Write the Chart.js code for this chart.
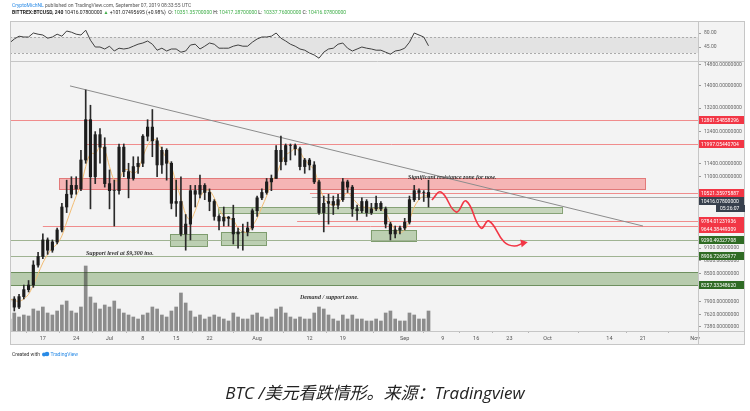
<!DOCTYPE html>
<html>
<head>
<meta charset="utf-8">
<script src="https://cdn.jsdelivr.net/npm/chart.js@4.4.1/dist/chart.umd.min.js"></script>
<style>
  html, body { margin: 0; padding: 0; background: #fff; }
  .wrap { position: relative; width: 750px; height: 411px; overflow: hidden; }
  canvas { display: block; }
  .caption { position: absolute; left: 0; width: 750px; top: 379px; text-align: center;
    font: italic 17px "Open Sans", "Noto Sans CJK SC", sans-serif; color: #222; }
</style>
</head>
<body>
<div class="wrap">
  <canvas id="c" width="750" height="411"></canvas>
  <div class="caption">BTC /美元看跌情形。来源：Tradingview</div>
</div>
<script>
// BTC/USD (Bittrex), summarised per day. x = days since 17 Jun 2019
const firstDay = -7;

const priceOpen = [
  7900, 7950, 7780, 8000, 8150, 8250, 8700,
  8900, 9300, 9050, 9250, 9550, 10150, 10500,
  10750, 10650, 11500, 12800, 11000, 12300, 11900,
  10800, 10600, 10600, 11900, 11150, 10950, 11300,
  11400, 12250, 12550, 12100, 11350, 11800, 11400,
  10250, 10300, 9450, 9700, 10600, 10500, 10750,
  10550, 10300, 9900, 9780, 9880, 9850, 9450,
  9500, 9500, 9600, 10050, 10400, 10550, 10850,
  10950, 11800, 11450, 11950, 11950, 11850, 11300,
  11500, 11350, 10850, 10000, 10250, 10300, 10200,
  10350, 10850, 10700, 10100, 10050, 10300, 10000,
  10100, 10250, 10100, 9700, 9450, 9550, 9600,
  9750, 10350, 10600, 10550, 10550
];
const priceHigh = [
  8000, 8000, 8050, 8250, 8350, 8800, 9000,
  9450, 9350, 9300, 9600, 10250, 10900, 11000,
  11000, 11800, 13850, 13300, 12400, 12500, 12200,
  11200, 10900, 12000, 12000, 11400, 11600, 11600,
  12300, 12800, 13150, 12200, 11900, 11850, 11450,
  10900, 11000, 9950, 10750, 10750, 11050, 10800,
  10650, 10350, 9950, 10150, 9900, 10200, 9600,
  9700, 9750, 10100, 10450, 10650, 10950, 11050,
  11950, 12250, 12000, 12000, 12000, 11900, 11550,
  11550, 11450, 10900, 10450, 10500, 10450, 10500,
  10950, 10900, 10750, 10200, 10400, 10350, 10250,
  10450, 10300, 10150, 9750, 9650, 9650, 9850,
  10450, 10750, 10650, 10600, 10900
];
const priceLow = [
  7820, 7700, 7750, 7950, 8100, 8200, 8650,
  8850, 8950, 9000, 9200, 9500, 10000, 10400,
  10500, 10600, 11400, 10100, 10800, 11400, 10700,
  10100, 9650, 10500, 11000, 10400, 10900, 11100,
  11300, 12100, 11600, 11000, 11100, 10900, 10100,
  9900, 9400, 9050, 9300, 10150, 10400, 10350,
  10050, 9800, 9550, 9650, 9650, 9200, 9100,
  9050, 9400, 9550, 9900, 10350, 10500, 10600,
  10950, 11200, 11350, 11500, 11650, 11200, 11100,
  11200, 10800, 9950, 9500, 9700, 9950, 10100,
  10300, 10550, 9900, 9800, 10000, 9900, 9950,
  10050, 10050, 9600, 9300, 9350, 9450, 9550,
  9700, 10300, 10350, 10300, 10150
];
const priceClose = [
  7950, 7780, 8000, 8150, 8250, 8700, 8900,
  9300, 9050, 9250, 9550, 10150, 10500, 10750,
  10650, 11500, 12800, 11000, 12300, 11900, 10800,
  10600, 10600, 11900, 11150, 10950, 11300, 11400,
  12250, 12550, 12100, 11350, 11800, 11400, 10250,
  10300, 9450, 9700, 10600, 10500, 10750, 10550,
  10300, 9900, 9780, 9880, 9850, 9450, 9500,
  9500, 9600, 10050, 10400, 10550, 10850, 10950,
  11800, 11450, 11950, 11950, 11850, 11300, 11500,
  11350, 10850, 10000, 10250, 10300, 10200, 10350,
  10850, 10700, 10100, 10050, 10300, 10000, 10100,
  10250, 10100, 9700, 9450, 9550, 9600, 9750,
  10350, 10600, 10550, 10550, 10416.078
];
const maValues = [
  7950, 7920, 7900, 7950, 8050, 8250, 8500,
  8750, 8950, 9100, 9200, 9400, 9750, 10100,
  10450, 10750, 11300, 11700, 11700, 11900, 11800,
  11300, 10900, 10900, 11200, 11200, 11100, 11200,
  11600, 11950, 12150, 12100, 11800, 11550, 11300,
  10800, 10400, 9950, 9800, 10050, 10400, 10600,
  10600, 10400, 10100, 9900, 9850, 9800, 9600,
  9500, 9500, 9650, 9850, 10150, 10450, 10850,
  11050, 11400, 11650, 11750, 11850, 11750, 11500,
  11350, 11200, 10750, 10400, 10250, 10200, 10250,
  10400, 10550, 10400, 10250, 10150, 10150, 10100,
  10100, 10100, 10000, 9750, 9550, 9480, 9550,
  9800, 10150, 10350, 10450, 10450
];
const rsiValues = [
  55, 65, 72, 70, 70, 80, 77,
  75, 67, 70, 77, 72, 85, 82,
  77, 75, 87, 62, 45, 45, 40,
  47, 35, 42, 40, 42, 47, 52,
  55, 60, 52, 37, 42, 35, 40,
  40, 32, 35, 50, 52, 40, 47,
  55, 52, 42, 42, 42, 47, 50,
  47, 47, 57, 65, 70, 70, 72,
  80, 67, 60, 52, 47, 40, 37,
  30, 25, 17, 32, 40, 42, 52,
  55, 42, 35, 40, 45, 42, 40,
  37, 37, 32, 27, 35, 37, 42,
  57, 80, 75, 70, 48
];
const volumes = [
  360, 540, 420, 480, 450, 660, 600,
  720, 540, 480, 600, 780, 900, 600,
  540, 720, 1950, 1020, 840, 660, 780,
  720, 900, 660, 540, 480, 420, 360,
  480, 540, 720, 660, 480, 420, 600,
  720, 1140, 840, 600, 420, 480, 360,
  420, 480, 420, 360, 300, 540, 420,
  360, 360, 480, 540, 420, 360, 420,
  660, 720, 540, 420, 360, 420, 360,
  360, 540, 720, 660, 480, 360, 300,
  480, 360, 480, 360, 360, 300, 300,
  360, 300, 540, 600, 360, 300, 300,
  540, 480, 360, 360, 600
];

// author's drawings
const trendDays = [5.7, 126.05];
const trendPrices = [14000, 9650];
const forecastDays = [81.7, 83.6, 86.8, 88.9, 92.0, 93.7, 96.9, 99.0, 100.9];
const forecastPrices = [10341, 10563, 10016, 10313, 9599, 9780, 9248, 9151, 9224];

const levelLines = [
  [12801.54858296, -7, '#f08c8c'],
  [11997.05440704, 8.9, '#f08c8c'],
  [10521.35975887, 56.1, '#f08c8c'],
  [10416.078, 56.5, '#a9a9a9'],
  [9784.01231936, 53.4, '#f08c8c'],
  [9644.38449309, 0, '#f08c8c'],
  [9290.49327708, -7, '#9fb392'],
  [8906.72685977, -7, '#9fb392']
];
const zones = [
  [3.4, 126.5, 10640, 10960, '#f5b5b5', '#e27a7a'],
  [36.8, 109.0, 9990, 10150, '#c6d5bc', '#86a276'],
  [26.7, 34.5, 9151, 9447, '#bccfb2', '#7e9c6e'],
  [37.4, 46.9, 9176, 9497, '#bccfb2', '#7e9c6e'],
  [68.9, 78.4, 9273, 9549, '#bccfb2', '#7e9c6e'],
  [-7, 140, 8257.3334862, 8540, '#b7cbad', '#6e8f5f']
];
const notes = [
  ['Significant resistance zone for now.', 76.7, 10935],
  ['Support level at $9,300 ino.', 9.06, 8935],
  ['Demand / support zone.', 54.0, 7951]
];
const priceTags = [
  [12801.54858296, '#f23645'],
  [11997.05440704, '#f23645'],
  [10521.35975887, '#f23645'],
  [10416.078, '#37404d'],
  [9784.01231936, '#f23645'],
  [9644.38449309, '#f23645'],
  [9290.49327708, '#2f6b24'],
  [8906.72685977, '#2f6b24'],
  [8257.3334862, '#2f6b24']
];

const priceTicks = [14800, 14000, 13200, 12400, 11400, 11000, 9100, 8800, 8500, 7900, 7620, 7380];
const rsiTicks = [80, 45];
const rsiBand = [70, 30];
const timeTickDays = [0, 7, 14, 21, 28, 35, 45, 56, 63, 76, 84, 91, 98, 106, 119, 126, 137];
const timeTickLabels = ['17', '24', 'Jul', '8', '15', '22', 'Aug', '12', '19', 'Sep', '9', '16', '23', 'Oct', '14', '21', 'Nov'];

const days = priceClose.map((_, i) => firstDay + i);
const wicks = days.map((d, i) => ({ x: d, y: [priceLow[i], priceHigh[i]] }));
const bodies = days.map((d, i) => ({ x: d, y: [priceOpen[i], priceClose[i]] }));
const maPts = days.map((d, i) => ({ x: d, y: maValues[i] }));
const rsiPts = days.map((d, i) => ({ x: d, y: rsiValues[i] }));
const volPts = days.map((d, i) => ({ x: d, y: volumes[i] }));
const trendPts = trendDays.map((d, i) => ({ x: d, y: trendPrices[i] }));
const forecastPts = forecastDays.map((d, i) => ({ x: d, y: forecastPrices[i] }));

Chart.defaults.font.family = 'Roboto, "DejaVu Sans", sans-serif';

function runs(ctx, x, y, parts) {
  for (const [text, color, font] of parts) {
    ctx.font = font;
    ctx.fillStyle = color;
    ctx.fillText(text, x, y);
    x += ctx.measureText(text).width;
  }
}

const decor = {
  id: 'decor',
  beforeDraw(chart) {
    const { ctx, chartArea: a, scales: { rsi } } = chart;
    ctx.save();
    ctx.fillStyle = '#f3f3f3';
    ctx.fillRect(10, 21, 735, 324);
    const yTop = rsi.getPixelForValue(rsiBand[0]);
    const yBot = rsi.getPixelForValue(rsiBand[1]);
    ctx.fillStyle = '#e3e3e3';
    ctx.fillRect(a.left, yTop, a.width, yBot - yTop);
    ctx.strokeStyle = '#ababab';
    ctx.lineWidth = 1;
    ctx.setLineDash([2, 2]);
    [yTop, yBot].forEach(y => {
      ctx.beginPath();
      ctx.moveTo(a.left, Math.round(y) + 0.5);
      ctx.lineTo(a.right, Math.round(y) + 0.5);
      ctx.stroke();
    });
    ctx.restore();
  },
  beforeDatasetsDraw(chart) {
    const { ctx, chartArea: a, scales: { x, price } } = chart;
    ctx.save();
    ctx.beginPath();
    ctx.rect(a.left, price.top, a.width, price.height);
    ctx.clip();
    for (const [d0, d1, lo, hi, fill, edge] of zones) {
      const x0 = Math.max(a.left, x.getPixelForValue(d0));
      const x1 = Math.min(a.right, x.getPixelForValue(d1));
      const y0 = Math.round(price.getPixelForValue(hi)) + 0.5;
      const y1 = Math.round(price.getPixelForValue(lo)) + 0.5;
      ctx.fillStyle = fill;
      ctx.fillRect(x0, y0, x1 - x0, y1 - y0);
      ctx.strokeStyle = edge;
      ctx.lineWidth = 1;
      ctx.strokeRect(Math.round(x0) + 0.5, y0, Math.round(x1 - x0), y1 - y0);
    }
    for (const [p, d0, color] of levelLines) {
      const y = Math.round(price.getPixelForValue(p)) + 0.5;
      ctx.strokeStyle = color;
      ctx.beginPath();
      ctx.moveTo(Math.max(a.left, x.getPixelForValue(d0)), y);
      ctx.lineTo(a.right, y);
      ctx.stroke();
    }
    ctx.restore();
  },
  afterDatasetsDraw(chart) {
    const { ctx, scales: { x, price } } = chart;
    ctx.save();
    ctx.font = 'italic 600 6px "Liberation Serif", serif';
    ctx.fillStyle = '#333';
    ctx.textBaseline = 'alphabetic';
    for (const [t, d, p] of notes) ctx.fillText(t, x.getPixelForValue(d), price.getPixelForValue(p));
    ctx.restore();
  },
  afterDraw(chart) {
    const { ctx, chartArea: a, scales: { price } } = chart;
    ctx.save();
    // frame
    ctx.strokeStyle = '#c6c6c6';
    ctx.lineWidth = 1;
    ctx.strokeRect(10.5, 21.5, 734, 323);
    ctx.beginPath();
    ctx.moveTo(10, Math.round(price.top) + 0.5); ctx.lineTo(745, Math.round(price.top) + 0.5);
    ctx.moveTo(10, Math.round(a.bottom) + 0.5); ctx.lineTo(745, Math.round(a.bottom) + 0.5);
    ctx.moveTo(Math.round(a.right) + 0.5, 21); ctx.lineTo(Math.round(a.right) + 0.5, 345);
    ctx.stroke();
    // price tags on the axis, pushed apart like TradingView does
    ctx.font = '5px Roboto, sans-serif';
    ctx.textBaseline = 'middle';
    let nowY = 0, prevY = -100;
    for (const [p, color] of priceTags) {
      let y = Math.round(price.getPixelForValue(p));
      if (y < prevY + 8) y = prevY + 8;
      prevY = y;
      ctx.fillStyle = color;
      ctx.fillRect(a.right + 1, y - 4, 45, 8);
      ctx.fillStyle = '#fff';
      ctx.fillText(p.toFixed(8), a.right + 3, y + 0.5);
      if (color === '#37404d') { nowY = y; prevY = y + 7; }
    }
    ctx.fillStyle = '#37404d';
    ctx.fillRect(716, nowY + 4, 29, 7);
    ctx.fillStyle = '#fff';
    ctx.fillText('05:26:07', 720, nowY + 7.5);
    // header
    ctx.textBaseline = 'alphabetic';
    runs(ctx, 12, 7, [
      ['CryptoMichNL', '#2a8be6', '5px Roboto, sans-serif'],
      [' published on TradingView.com, September 07, 2019 08:33:55 UTC', '#555', '5px Roboto, sans-serif']
    ]);
    const g = '#3fae49', k = '#222', f = '5px Roboto, sans-serif';
    runs(ctx, 12, 14, [
      ['BITTREX:BTCUSD, 240 ', k, 'bold 5px Roboto, sans-serif'],
      ['10416.07800000 ', k, f], ['▲', g, f], [' +101.07495695 (+0.98%)  ', k, f],
      ['O: ', k, f], ['10351.35700000 ', g, f], ['H: ', k, f], ['10417.28700000 ', g, f],
      ['L: ', k, f], ['10337.76000000 ', g, f], ['C: ', k, f], ['10416.07800000', g, f]
    ]);
    // footer
    runs(ctx, 12, 356, [['Created with ', '#333', f]]);
    ctx.fillStyle = '#2a8be6';
    ctx.beginPath();
    ctx.arc(44, 354.5, 2, 0, Math.PI * 2);
    ctx.arc(47, 354, 2.3, 0, Math.PI * 2);
    ctx.fill();
    runs(ctx, 50.5, 356, [['TradingView', '#2a8be6', f]]);
    ctx.restore();
  }
};

const yAxisCommon = {
  type: 'linear',
  position: 'right',
  stack: 'panes',
  bounds: 'data',
  grid: { drawOnChartArea: false, tickLength: 3, color: '#9a9a9a' },
  border: { display: true, color: '#c6c6c6' },
  ticks: { autoSkip: false, padding: 3, color: '#666', font: { size: 5 } },
  afterFit: s => { s.width = 47; }
};

new Chart(document.getElementById('c'), {
  type: 'line',
  data: {
    datasets: [
      { type: 'line', label: 'RSI', yAxisID: 'rsi', data: rsiPts, borderColor: '#404040',
        borderWidth: 1, pointRadius: 0, order: 0 },
      { type: 'line', label: 'Forecast', yAxisID: 'price', data: forecastPts, borderColor: '#f23645',
        borderWidth: 1.6, tension: 0.45, pointStyle: 'triangle', pointBackgroundColor: '#f23645',
        pointBorderColor: '#f23645', pointRadius: [0, 0, 0, 0, 0, 0, 0, 0, 3], pointRotation: 80, order: 1 },
      { type: 'bar', label: 'Body', yAxisID: 'price', data: bodies, backgroundColor: '#1c1c1c',
        barThickness: 2.5, grouped: false, order: 2 },
      { type: 'bar', label: 'Wick', yAxisID: 'price', data: wicks, backgroundColor: '#2a2a2a',
        barThickness: 1, grouped: false, order: 3 },
      { type: 'line', label: 'MA', yAxisID: 'price', data: maPts, borderColor: '#f2bd74',
        borderWidth: 1, pointRadius: 0, tension: 0.3, order: 4 },
      { type: 'line', label: 'Trend', yAxisID: 'price', data: trendPts, borderColor: '#8c8c8c',
        borderWidth: 1, pointRadius: 0, order: 5 },
      { type: 'bar', label: 'Volume', yAxisID: 'yv', data: volPts, backgroundColor: 'rgba(55,55,55,0.55)',
        barThickness: 3, grouped: false, order: 6 }
    ]
  },
  options: {
    responsive: false,
    animation: false,
    events: [],
    layout: { padding: { top: 21, left: 10, right: 5, bottom: 66 } },
    plugins: { legend: { display: false }, tooltip: { enabled: false } },
    scales: {
      x: {
        type: 'linear', min: -6.9, max: 137.6, bounds: 'data', offset: false,
        grid: { drawOnChartArea: false, tickLength: 2, color: '#b5b5b5' },
        border: { display: false },
        ticks: { autoSkip: false, maxRotation: 0, padding: 2, color: '#555', font: { size: 5.5 },
          callback: v => timeTickLabels[timeTickDays.indexOf(v)] },
        afterBuildTicks: s => { s.ticks = timeTickDays.map(v => ({ value: v })); },
        afterFit: s => { s.height = 14; }
      },
      rsi: Object.assign({}, yAxisCommon, {
        stackWeight: 40, min: 10, max: 110,
        ticks: Object.assign({}, yAxisCommon.ticks, { callback: v => v.toFixed(2) }),
        afterBuildTicks: s => { s.ticks = rsiTicks.map(v => ({ value: v })); }
      }),
      price: Object.assign({}, yAxisCommon, {
        type: 'logarithmic', stackWeight: 270, min: 7302, max: 14958,
        ticks: Object.assign({}, yAxisCommon.ticks, { callback: v => v.toFixed(8) }),
        afterBuildTicks: s => { s.ticks = priceTicks.map(v => ({ value: v })); }
      }),
      yv: { type: 'linear', display: false, position: 'left', min: 0, max: 9300, bounds: 'data' }
    }
  },
  plugins: [decor]
});
</script>
</body>
</html>
